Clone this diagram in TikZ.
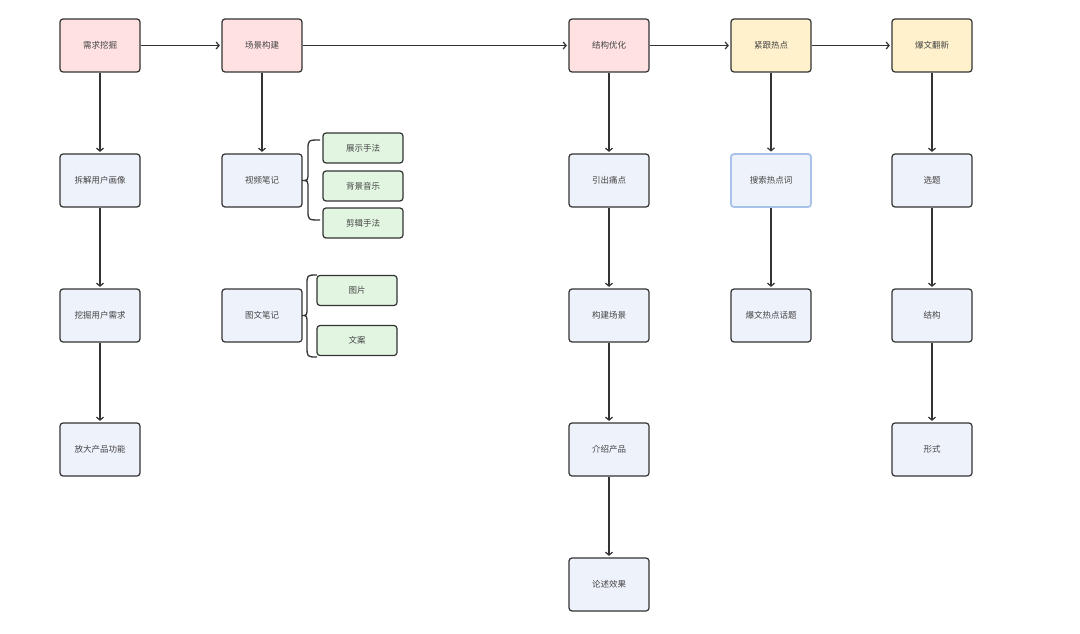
\documentclass[tikz,border=0pt]{standalone}
\usepackage{fontspec}
\setmainfont{Noto Sans CJK SC}
\usetikzlibrary{arrows.meta,positioning}
\definecolor{pinkf}{HTML}{FFE1E1}
\definecolor{yelf}{HTML}{FFF1CC}
\definecolor{bluef}{HTML}{EEF2FB}
\definecolor{greenf}{HTML}{E1F5E1}
\definecolor{edgec}{HTML}{333333}
\definecolor{txtc}{HTML}{444444}
\definecolor{hlc}{HTML}{A9C2EA}
\tikzset{
  box/.style={draw=edgec, line width=1.2pt, rounded corners=3pt, minimum width=80pt, minimum height=53pt, inner sep=0pt, text=txtc, font=\fontsize{8.5}{10}\selectfont},
  pinkbox/.style={box, fill=pinkf},
  yelbox/.style={box, fill=yelf},
  bluebox/.style={box, fill=bluef},
  hlbox/.style={box, fill=bluef, draw=hlc, line width=1.8pt},
  greenbox/.style={box, fill=greenf, minimum height=30pt},
  conn/.style={draw=edgec, line width=1.2pt, shorten >=1.5pt, -{Straight Barb[length=3pt,width=7pt,line width=1.2pt]}},
  bracel/.style={draw=edgec, line width=1.3pt}
}
\begin{document}
\begin{tikzpicture}[x=1pt,y=-1pt]
\useasboundingbox (0,0) rectangle (1080,634);
\fill[white] (0,0) rectangle (1080,634);
% top row
\node[pinkbox] (a1) at (100,45.5) {需求挖掘};
\node[pinkbox] (b1) at (262,45.5) {场景构建};
\node[pinkbox] (c1) at (609,45.5) {结构优化};
\node[yelbox] (d1) at (771,45.5) {紧跟热点};
\node[yelbox] (e1) at (932,45.5) {爆文翻新};
% column 1
\node[bluebox] (a2) at (100,180.5) {拆解用户画像};
\node[bluebox] (a3) at (100,315.5) {挖掘用户需求};
\node[bluebox] (a4) at (100,449.5) {放大产品功能};
% column 2
\node[bluebox] (b2) at (262,180.5) {视频笔记};
\node[bluebox] (b3) at (262,315.5) {图文笔记};
\node[greenbox] (g1) at (363,148) {展示手法};
\node[greenbox] (g2) at (363,186) {背景音乐};
\node[greenbox] (g3) at (363,223) {剪辑手法};
\node[greenbox] (g4) at (357,290.5) {图片};
\node[greenbox] (g5) at (357,340.5) {文案};
% column 3
\node[bluebox] (c2) at (609,180.5) {引出痛点};
\node[bluebox] (c3) at (609,315.5) {构建场景};
\node[bluebox] (c4) at (609,449.5) {介绍产品};
\node[bluebox] (c5) at (609,584.5) {论述效果};
% column 4
\node[hlbox] (d2) at (771,180.5) {搜索热点词};
\node[bluebox] (d3) at (771,315.5) {爆文热点话题};
% column 5
\node[bluebox] (e2) at (932,180.5) {选题};
\node[bluebox] (e3) at (932,315.5) {结构};
\node[bluebox] (e4) at (932,449.5) {形式};
% horizontal connectors
\draw[conn] (a1) -- (b1);
\draw[conn] (b1) -- (c1);
\draw[conn] (c1) -- (d1);
\draw[conn] (d1) -- (e1);
% vertical connectors
\draw[conn] (a1) -- (a2);
\draw[conn] (a2) -- (a3);
\draw[conn] (a3) -- (a4);
\draw[conn] (b1) -- (b2);
\draw[conn] (c1) -- (c2);
\draw[conn] (c2) -- (c3);
\draw[conn] (c3) -- (c4);
\draw[conn] (c4) -- (c5);
\draw[conn] (d1) -- (d2);
\draw[conn] (d2) -- (d3);
\draw[conn] (e1) -- (e2);
\draw[conn] (e2) -- (e3);
\draw[conn] (e3) -- (e4);
% braces
\draw[bracel] (320,140) .. controls (308,140) .. (308,150) -- (308,172)
  .. controls (308,180.5) .. (302,180.5) .. controls (308,180.5) .. (308,189)
  -- (308,210) .. controls (308,220) .. (320,220);
\draw[bracel] (317,275) .. controls (307,275) .. (307,285) -- (307,307)
  .. controls (307,315.5) .. (302,315.5) .. controls (307,315.5) .. (307,324)
  -- (307,346) .. controls (307,357) .. (317,357);
\end{tikzpicture}
\end{document}
